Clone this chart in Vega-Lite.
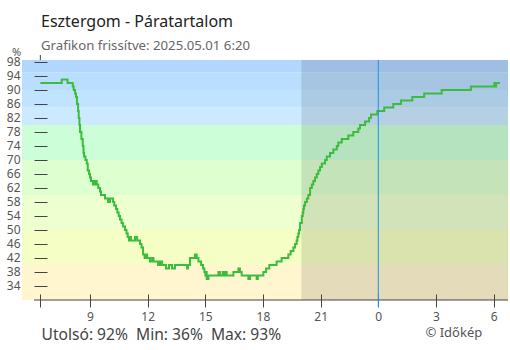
{
  "$schema": "https://vega.github.io/schema/vega-lite/v6.json",
  "width": 486,
  "height": 240,
  "autosize": {"type": "none"},
  "padding": {"left": 22, "top": 60, "right": 2, "bottom": 50},
  "background": "white",
  "config": {"view": {"stroke": null}, "font": "Noto Sans"},
  "title": {
    "text": "Esztergom - Páratartalom",
    "subtitle": "Grafikon frissítve: 2025.05.01 6:20",
    "anchor": "start",
    "frame": "group",
    "dx": 19,
    "offset": -6,
    "font": "Noto Sans",
    "fontSize": 16,
    "fontWeight": "normal",
    "color": "#222222",
    "subtitleFont": "Noto Sans",
    "subtitleFontSize": 13.2,
    "subtitleColor": "#666666",
    "subtitlePadding": 10
  },
  "datasets": {
    "bands": [
      {"lo": 30, "hi": 40, "c": "#fff6d0"},
      {"lo": 40, "hi": 50, "c": "#f5fec4"},
      {"lo": 50, "hi": 60, "c": "#eeffd0"},
      {"lo": 60, "hi": 70, "c": "#deffd0"},
      {"lo": 70, "hi": 80, "c": "#ccffd8"},
      {"lo": 80, "hi": 85, "c": "#cceaff"},
      {"lo": 85, "hi": 90, "c": "#c0e3ff"},
      {"lo": 90, "hi": 95, "c": "#badeff"},
      {"lo": 95, "hi": 100, "c": "#b2d7ff"}
    ],
    "night": [{"from": 20.0, "to": 30.75}],
    "hum": [
      {"h": 6.414, "v": 92}, {"h": 7.528, "v": 93}, {"h": 7.829, "v": 92},
      {"h": 8.10, "v": 91}, {"h": 8.15, "v": 90}, {"h": 8.22, "v": 89},
      {"h": 8.27, "v": 88}, {"h": 8.32, "v": 86}, {"h": 8.38, "v": 84},
      {"h": 8.41, "v": 82}, {"h": 8.45, "v": 80}, {"h": 8.48, "v": 78},
      {"h": 8.55, "v": 76}, {"h": 8.62, "v": 74}, {"h": 8.66, "v": 72},
      {"h": 8.69, "v": 71}, {"h": 8.76, "v": 70}, {"h": 8.83, "v": 69},
      {"h": 8.88, "v": 67}, {"h": 8.95, "v": 66}, {"h": 9.00, "v": 65},
      {"h": 9.05, "v": 64}, {"h": 9.15, "v": 63}, {"h": 9.18, "v": 64},
      {"h": 9.21, "v": 63}, {"h": 9.30, "v": 64}, {"h": 9.35, "v": 63},
      {"h": 9.43, "v": 62}, {"h": 9.52, "v": 61}, {"h": 9.57, "v": 60},
      {"h": 9.78, "v": 59}, {"h": 9.94, "v": 58}, {"h": 10.04, "v": 59},
      {"h": 10.20, "v": 58}, {"h": 10.26, "v": 57}, {"h": 10.35, "v": 56},
      {"h": 10.42, "v": 55}, {"h": 10.49, "v": 54}, {"h": 10.56, "v": 53},
      {"h": 10.64, "v": 52}, {"h": 10.72, "v": 51}, {"h": 10.82, "v": 50},
      {"h": 10.90, "v": 49}, {"h": 10.96, "v": 48}, {"h": 11.03, "v": 47},
      {"h": 11.08, "v": 48}, {"h": 11.13, "v": 47}, {"h": 11.34, "v": 48},
      {"h": 11.45, "v": 47}, {"h": 11.60, "v": 46}, {"h": 11.68, "v": 45},
      {"h": 11.76, "v": 43}, {"h": 11.84, "v": 42}, {"h": 11.91, "v": 43},
      {"h": 11.97, "v": 42}, {"h": 12.12, "v": 41}, {"h": 12.23, "v": 42},
      {"h": 12.30, "v": 41}, {"h": 12.54, "v": 40}, {"h": 12.64, "v": 41},
      {"h": 12.75, "v": 40}, {"h": 12.95, "v": 39}, {"h": 13.11, "v": 40},
      {"h": 13.27, "v": 39}, {"h": 13.42, "v": 40}, {"h": 14.05, "v": 39},
      {"h": 14.10, "v": 40}, {"h": 14.20, "v": 42}, {"h": 14.46, "v": 43},
      {"h": 14.55, "v": 42}, {"h": 14.64, "v": 41}, {"h": 14.78, "v": 40},
      {"h": 14.88, "v": 39}, {"h": 14.95, "v": 38}, {"h": 15.00, "v": 37},
      {"h": 15.03, "v": 38}, {"h": 15.07, "v": 36}, {"h": 15.16, "v": 37},
      {"h": 15.68, "v": 38}, {"h": 15.76, "v": 37}, {"h": 15.90, "v": 38},
      {"h": 15.97, "v": 37}, {"h": 16.02, "v": 38}, {"h": 16.11, "v": 37},
      {"h": 16.46, "v": 38}, {"h": 16.72, "v": 39}, {"h": 16.80, "v": 38},
      {"h": 16.89, "v": 37}, {"h": 17.24, "v": 36}, {"h": 17.33, "v": 37},
      {"h": 17.67, "v": 36}, {"h": 17.73, "v": 37}, {"h": 18.02, "v": 38},
      {"h": 18.16, "v": 39}, {"h": 18.33, "v": 40}, {"h": 18.71, "v": 41},
      {"h": 18.97, "v": 42}, {"h": 19.32, "v": 43}, {"h": 19.44, "v": 44},
      {"h": 19.58, "v": 45}, {"h": 19.67, "v": 46}, {"h": 19.75, "v": 47},
      {"h": 19.79, "v": 48}, {"h": 19.84, "v": 49}, {"h": 19.88, "v": 50},
      {"h": 19.93, "v": 52}, {"h": 20.02, "v": 54}, {"h": 20.07, "v": 55},
      {"h": 20.10, "v": 56}, {"h": 20.13, "v": 57}, {"h": 20.19, "v": 58},
      {"h": 20.28, "v": 59}, {"h": 20.36, "v": 60}, {"h": 20.45, "v": 62},
      {"h": 20.54, "v": 63}, {"h": 20.62, "v": 64}, {"h": 20.71, "v": 65},
      {"h": 20.80, "v": 66}, {"h": 20.88, "v": 67}, {"h": 20.97, "v": 68},
      {"h": 21.06, "v": 69}, {"h": 21.23, "v": 70}, {"h": 21.32, "v": 71},
      {"h": 21.49, "v": 72}, {"h": 21.66, "v": 73}, {"h": 21.84, "v": 74},
      {"h": 21.92, "v": 75}, {"h": 22.10, "v": 76}, {"h": 22.44, "v": 77},
      {"h": 22.70, "v": 78}, {"h": 22.96, "v": 79}, {"h": 23.05, "v": 80},
      {"h": 23.31, "v": 81}, {"h": 23.52, "v": 82}, {"h": 23.62, "v": 83},
      {"h": 23.95, "v": 84}, {"h": 24.31, "v": 85}, {"h": 24.78, "v": 86},
      {"h": 25.18, "v": 87}, {"h": 25.77, "v": 88}, {"h": 26.39, "v": 89},
      {"h": 27.30, "v": 90}, {"h": 28.82, "v": 91}, {"h": 30.04, "v": 92},
      {"h": 30.10, "v": 91}, {"h": 30.13, "v": 92}, {"h": 30.333, "v": 92}
    ]
  },
  "resolve": {"axis": {"y": "independent"}},
  "layer": [
    {
      "data": {"name": "bands"},
      "mark": {"type": "rect", "clip": true},
      "encoding": {
        "y": {
          "field": "lo", "type": "quantitative",
          "scale": {"domain": [30, 98.57], "nice": false, "zero": false},
          "axis": {
            "orient": "left",
            "values": [34, 38, 42, 46, 50, 54, 58, 62, 66, 70, 74, 78, 82, 86, 90, 94, 98],
            "offset": -25, "tickSize": 13, "tickColor": "#444444", "domain": false, "grid": false,
            "labelPadding": 14, "labelFontSize": 12, "labelColor": "#555555", "labelFont": "Noto Sans",
            "labelBound": false, "labelOverlap": false, "labelFlush": false,
            "title": "%", "titleAngle": 0, "titleX": -31, "titleY": -8,
            "titleFontSize": 11, "titleFontWeight": "normal", "titleColor": "#555555", "titleFont": "Noto Sans",
            "titleAlign": "center", "titleBaseline": "middle", "zindex": 1
          }
        },
        "y2": {"field": "hi"},
        "color": {"field": "c", "type": "nominal", "scale": null}
      }
    },
    {
      "data": {"name": "night"},
      "mark": {"type": "rect", "color": "#000000", "opacity": 0.11},
      "encoding": {
        "x": {
          "field": "from", "type": "quantitative",
          "scale": {"domain": [5.46, 30.75], "nice": false, "zero": false},
          "axis": {
            "orient": "bottom",
            "values": [6.414, 9, 12, 15, 18, 21, 24, 27, 30],
            "labelExpr": "datum.value < 7 ? '' : '' + (datum.value % 24)",
            "offset": -6, "tickSize": 13, "domain": false, "grid": false,
            "tickColor": {"condition": {"test": "datum.value == 24", "value": "#1e90e6"}, "value": "#444444"},
            "labelPadding": 4, "labelFontSize": 12, "labelColor": "#555555", "labelFont": "Noto Sans",
            "labelBound": false, "labelOverlap": false, "labelFlush": false,
            "title": "Utolsó: 92%\u00a0 Min: 36%\u00a0 Max: 93%",
            "titleX": 19, "titleY": 45, "titleAlign": "left", "titleBaseline": "alphabetic",
            "titleFontSize": 15.6, "titleFontWeight": "normal", "titleColor": "#444444", "titleFont": "Noto Sans",
            "zindex": 1
          }
        },
        "x2": {"field": "to"}
      }
    },
    {
      "data": {"name": "hum"},
      "mark": {"type": "line", "interpolate": "step-after", "color": "#3cbc3c", "strokeWidth": 2},
      "encoding": {
        "x": {"field": "h", "type": "quantitative", "scale": {"domain": [5.46, 30.75], "nice": false, "zero": false}},
        "y": {
          "field": "v", "type": "quantitative",
          "scale": {"domain": [30, 98.57], "nice": false, "zero": false},
          "axis": {
            "orient": "right", "domain": false, "ticks": false, "labels": false, "grid": false,
            "title": "© Időkép", "titleAngle": 0, "titleX": -83, "titleY": 276,
            "titleAlign": "left", "titleBaseline": "alphabetic",
            "titleFontSize": 13, "titleFontWeight": "normal", "titleColor": "#555555", "titleFont": "Noto Sans"
          }
        }
      }
    },
    {
      "data": {"values": [{}]},
      "mark": {"type": "rule", "color": "#1e90e6", "strokeWidth": 1},
      "encoding": {
        "x": {"datum": 24, "type": "quantitative"},
        "y": {"datum": 98.57, "type": "quantitative", "axis": null},
        "y2": {"datum": 28}
      }
    },
    {
      "data": {"values": [{}]},
      "mark": {"type": "rule", "color": "#444444", "strokeWidth": 1},
      "encoding": {
        "x": {"datum": 6.086, "type": "quantitative"},
        "x2": {"datum": 30.75},
        "y": {"datum": 30, "type": "quantitative", "axis": null}
      }
    },
    {
      "data": {"values": [{}]},
      "mark": {"type": "rule", "color": "#444444", "strokeWidth": 1},
      "encoding": {
        "x": {"datum": 6.414, "type": "quantitative"},
        "y": {"datum": 98.57, "type": "quantitative", "axis": null},
        "y2": {"datum": 100}
      }
    }
  ]
}
